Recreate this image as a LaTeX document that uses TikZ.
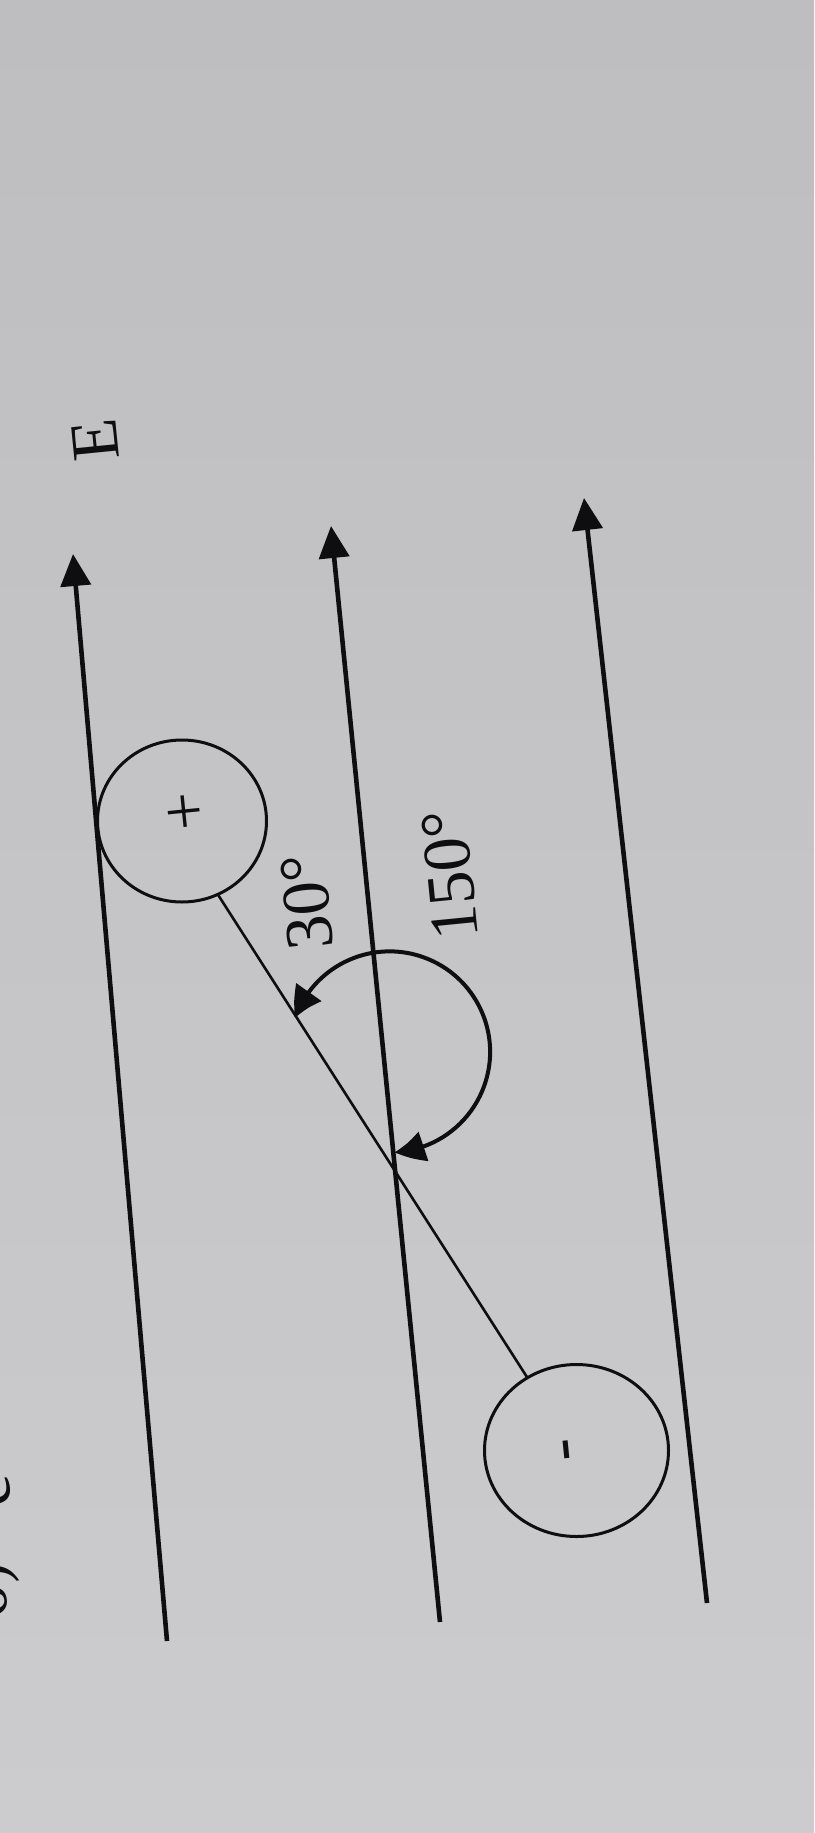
\documentclass[tikz,border=0pt]{standalone}
\usepackage{fontspec}
\setmainfont{Liberation Serif}
\usetikzlibrary{arrows.meta,bending,shapes.geometric}
\definecolor{bgtop}{RGB}{190,189,192}
\definecolor{bgbot}{RGB}{204,204,206}
\definecolor{ink}{RGB}{14,14,16}
\tikzset{
  fieldline/.style={draw=ink, line width=4.6pt, -{Triangle[length=32pt,width=30pt]}},
  charge/.style={ellipse, draw=ink, line width=3pt, inner sep=0pt, outer sep=0pt},
  dipole/.style={draw=ink, line width=2.6pt},
  anglearc/.style={draw=ink, line width=4pt, {Triangle[length=30pt,width=30pt,bend]}-{Triangle[length=30pt,width=30pt,bend]}},
  lbl/.style={text=ink, inner sep=0pt, rotate=95.7, font=\fontsize{68}{80}\selectfont},
}
\begin{document}
\begin{tikzpicture}[x=1pt, y=-1pt]
\shade[top color=bgtop, bottom color=bgbot] (0,0) rectangle (814,1833);
\useasboundingbox (0,0) rectangle (814,1833);
% field lines
\coordinate (t1) at (73,554);
\coordinate (b1) at (167,1641);
\coordinate (t2) at (331,526);
\coordinate (b2) at (440,1622);
\coordinate (t3) at (584,498);
\coordinate (b3) at (707,1603);
\draw[fieldline] (b1) -- (t1);
\draw[fieldline] (b2) -- (t2);
\draw[fieldline] (b3) -- (t3);
\node[lbl] (E) at (95,440) {E};
% charges
\node[charge, minimum width=169pt, minimum height=162pt] (pos) at (182,821) {};
\node[charge, minimum width=184pt, minimum height=172pt] (neg) at (576.5,1450.5) {};
\node[lbl] (plus) at (187,811) {+};
\node[lbl] (minus) at (573,1449) {-};
\draw[dipole] (pos.-64.7) -- (neg.124);
% angle arc
\coordinate (arcA) at (295,1018);
\draw[anglearc] (arcA) arc[start angle=199.7, end angle=447.2, radius=100.5];
\node[lbl] (a30) at (307,902) {30°};
\node[lbl] (a150) at (450,875) {150°};
% cut-off text at the left edge
\node[lbl, anchor=base east] (frag1) at (3,1562) {6)};
\node[lbl, anchor=base] (frag2) at (10,1490) {c};
\end{tikzpicture}
\end{document}
